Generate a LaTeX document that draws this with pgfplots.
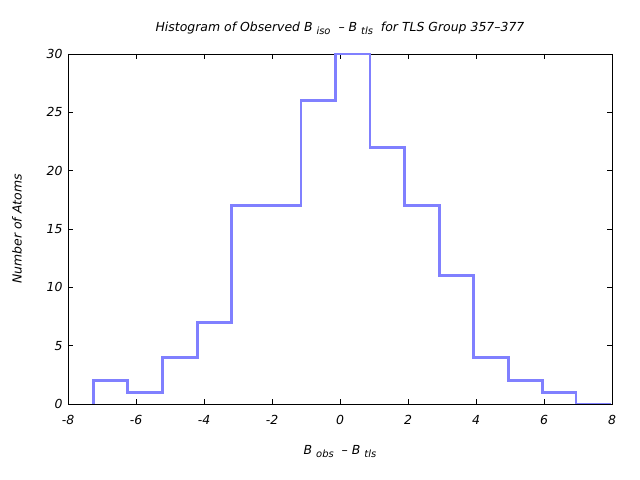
\documentclass[border=0pt]{standalone}
\usepackage{pgfplots}
\pgfplotsset{compat=1.18}
\usepackage{fontspec}
\setmainfont{DejaVu Sans}
\definecolor{histblue}{RGB}{128,128,255}
\newcommand{\sub}[1]{\raisebox{-0.45ex}{\fontsize{10}{11}\selectfont #1}}
\begin{document}
\begin{tikzpicture}
\path[use as bounding box] (0,0) rectangle (640bp,480bp);
\begin{axis}[
  at={(68bp,76bp)}, anchor=south west,
  scale only axis, width=544bp, height=350bp,
  xmin=-8, xmax=8, ymin=0, ymax=30,
  xtick={-8,-6,...,8}, ytick={0,5,...,30},
  tick align=inside, major tick length=5bp,
  tick style={black, line width=0.6pt},
  axis line style={black, line width=0.8pt},
  /pgf/number format/assume math mode=true,
  ticklabel style={font=\fontsize{12.5}{13}\selectfont\itshape},
  xticklabel style={yshift=-8bp},
  yticklabel style={xshift=-2bp},
  title style={font=\fontsize{12.5}{13}\selectfont\itshape, yshift=10bp},
  title={Histogram of Observed B \sub{iso}~ -- B \sub{tls}~ for TLS Group 357--377},
  label style={font=\fontsize{12.5}{13}\selectfont\itshape},
  xlabel={B \sub{obs}~ -- B \sub{tls}},
  ylabel={Number of Atoms},
  xlabel style={yshift=-14bp},
  ylabel style={yshift=18bp},
]
\addplot[const plot mark left, color=histblue, line width=2.8bp] coordinates {
(-7.26,0) (-7.26,2) (-6.24,1) (-5.22,4) (-4.20,7) (-3.18,17) (-2.16,17) (-1.15,26) (-0.13,30) (0.88,22) (1.90,17) (2.92,11) (3.93,4) (4.95,2) (5.96,1) (6.94,0) (7.96,0)
};
\end{axis}
\end{tikzpicture}
\end{document}
